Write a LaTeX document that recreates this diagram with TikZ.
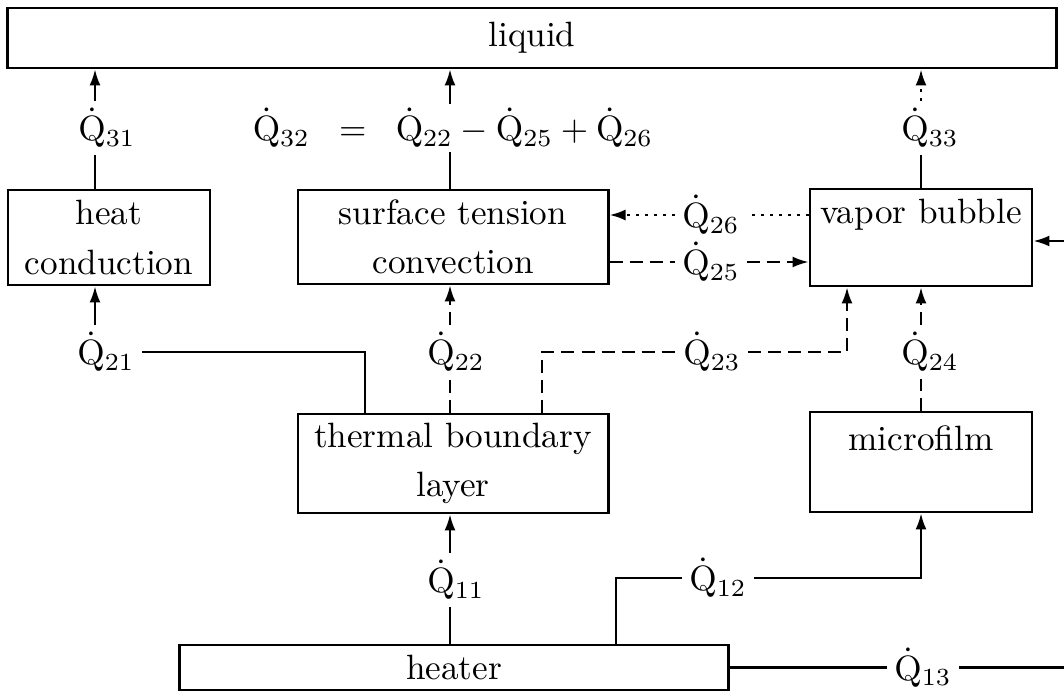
\documentclass[tikz,border=0pt]{standalone}
\usepackage{amsmath}
\usepackage{tikz}
\usetikzlibrary{arrows.meta, positioning}

\newcommand{\Qdot}[1]{\ensuremath{\dot{\mathrm{Q}}_{#1}}}

\begin{document}
\begin{tikzpicture}[
    x=0.01cm, y=-0.01cm,
    block/.style={
        rectangle,
        draw,
        line width=0.8pt,
        inner sep=0pt,
        align=center,
        font=\fontsize{10}{14}\selectfont
    },
    flow/.style={
        inner sep=2pt,
        font=\normalsize
    },
    arrow/.style={-{Latex[length=1.6mm, width=1.1mm]}},
    heatline/.style={line width=0.6pt},
    dashline/.style={line width=0.6pt, dash pattern=on 1.3mm off 0.7mm},
    dotline/.style={line width=0.7pt, dash pattern=on 0.3mm off 0.6mm}
]
\useasboundingbox (0,0) rectangle (1064,694);

% Boxes
\node[block, minimum width=10.48cm, minimum height=0.60cm] (liquid) at (532,38) {liquid};
\node[block, minimum width=2.02cm, minimum height=0.95cm] (heat) at (109,237.5) {heat\\conduction};
\node[block, minimum width=3.10cm, minimum height=0.94cm] (stc) at (453,237) {surface tension\\convection};
\node[block, minimum width=2.22cm, minimum height=0.97cm, text depth=15pt] (vb) at (921,237.5) {vapor bubble};
\node[block, minimum width=3.10cm, minimum height=0.99cm] (tbl) at (453,463.5) {thermal boundary\\layer};
\node[block, minimum width=2.22cm, minimum height=1.00cm, text depth=13.7pt] (mf) at (921,462) {microfilm};
\node[block, minimum width=5.48cm, minimum height=0.45cm] (heater) at (454,667.5) {heater};

% Columns and free ends
\coordinate (k1) at (95,0);
\coordinate (k21) at (365,0);
\coordinate (k2) at (450,0);
\coordinate (k23a) at (542,0);
\coordinate (k12) at (616,0);
\coordinate (k23b) at (847,0);
\coordinate (k3) at (921,0);
\coordinate (e13) at (1064,667.5);
\coordinate (e14) at (1064,241);

% Heat flow labels
\node[flow] (q31) at (107,128) {\Qdot{31}};
\node[flow, inner sep=1pt] (q32) at (453,128) {$\Qdot{32}\;\;=\;\;\Qdot{22}-\Qdot{25}+\Qdot{26}$};
\node[flow] (q33) at (930,128) {\Qdot{33}};
\node[flow] (q26) at (711,215) {\Qdot{26}};
\node[flow] (q25) at (711,262) {\Qdot{25}};
\node[flow] (q21) at (106,352) {\Qdot{21}};
\node[flow] (q22) at (456,352) {\Qdot{22}};
\node[flow] (q23) at (712,352) {\Qdot{23}};
\node[flow] (q24) at (930,352) {\Qdot{24}};
\node[flow] (q11) at (456,580) {\Qdot{11}};
\node[flow] (q12) at (718,578) {\Qdot{12}};
\node[flow] (q13) at (923,667.5) {\Qdot{13}};

% To the liquid
\draw[heatline] (k1 |- heat.north) -- (k1 |- q31.south);
\draw[heatline, arrow] (k1 |- q31.north) -- (k1 |- liquid.south);
\draw[heatline] (k2 |- stc.north) -- (k2 |- q32.south);
\draw[heatline, arrow] (k2 |- q32.north) -- (k2 |- liquid.south);
\draw[heatline] (vb.north) -- (k3 |- q33.south);
\draw[dotline, arrow] (k3 |- q33.north) -- (k3 |- liquid.south);

% Surface tension convection <-> vapor bubble
\draw[dotline] (vb.west |- q26) -- (q26.east);
\draw[dotline, arrow] (q26.west) -- (stc.east |- q26);
\draw[dashline] (stc.east |- q25) -- (q25.west);
\draw[dashline, arrow] (q25.east) -- (vb.west |- q25);
\draw[heatline, arrow] (e14) -- (vb.east |- e14);

% From thermal boundary layer and microfilm
\draw[heatline] (k21 |- tbl.north) |- (q21.east);
\draw[heatline, arrow] (k1 |- q21.north) -- (k1 |- heat.south);
\draw[dashline] (k2 |- tbl.north) -- (k2 |- q22.south);
\draw[dashline, arrow] (k2 |- q22.north) -- (k2 |- stc.south);
\draw[dashline] (k23a |- tbl.north) |- (q23.west);
\draw[dashline, arrow] (q23.east) -| (k23b |- vb.south);
\draw[dashline] (mf.north) -- (k3 |- q24.south);
\draw[dashline, arrow] (k3 |- q24.north) -- (vb.south);

% From heater
\draw[heatline] (k2 |- heater.north) -- (k2 |- q11.south);
\draw[heatline, arrow] (k2 |- q11.north) -- (k2 |- tbl.south);
\draw[heatline] (k12 |- heater.north) |- (q12.west);
\draw[heatline, arrow] (q12.east) -| (mf.south);
\draw[heatline] (heater.east) -- (q13.west);
\draw[heatline] (q13.east) -- (e13);

\end{tikzpicture}
\end{document}
